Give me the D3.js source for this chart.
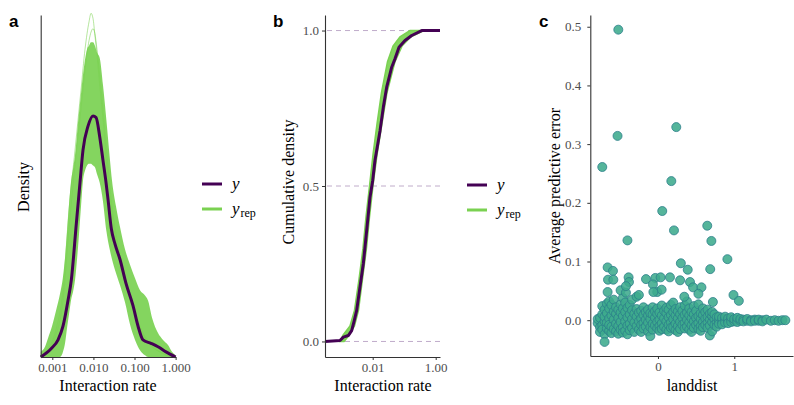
<!DOCTYPE html>
<html>
  <head>
    <meta charset="utf-8" />
    <script src="https://cdn.jsdelivr.net/npm/d3@7"></script>
    <style>
        body { margin: 0; background: #fff; }
        svg { display: block; }
        svg text { font-family: "Liberation Serif", "Times New Roman", Times, "DejaVu Serif", serif; }
        .tick text { font-size: 13px; fill: #4d4d4d; }
        .tick line { stroke: #333; }
        .domain { stroke: #333; stroke-width: 1.1; }
        .title { font-size: 16px; fill: #000; }
        svg text.panel { font-family: "Liberation Sans", Arial, sans-serif; font-size: 17px; font-weight: bold; }
        .leg { font-size: 17px; font-style: italic; }
    </style>
  </head>
  <body>
    <script type="text/javascript">

        // ---- panel a : density overlay (x = interaction rate, log) ----
        var yRateA = [0.000522,0.000946,0.00138,0.00182,0.00241,0.0029,0.00384,0.00472,0.00558,0.00739,0.00978,0.0116,
                      0.0142,0.0171,0.0203,0.0227,0.0273,0.0336,0.0444,0.0621,0.092,0.122,0.161,0.252,0.373,0.583,1.0];
        var yDensA = [0,0.05,0.10,0.18,0.33,0.45,0.78,1.02,1.21,1.35,1.41,1.40,
                      1.29,1.15,1.02,0.92,0.75,0.66,0.57,0.43,0.30,0.18,0.10,0.08,0.06,0.03,0];

        // grid used for the yrep band (upper / lower envelope of the replicates)
        var repRateA = [0.000522,0.000664,0.000786,0.000984,0.00123,0.00154,0.00182,0.00204,0.00228,0.00255,0.0029,0.00319,
                        0.00357,0.00422,0.00499,0.00558,0.00625,0.00699,0.00782,0.00875,0.00978,0.0109,0.0122,0.0142,
                        0.0171,0.0206,0.0249,0.0284,0.0355,0.0444,0.0587,0.0778,0.103,0.136,0.180,0.213,0.267,0.373,
                        0.494,0.653,0.817,1.0];
        var repUpperA = [0.03,0.06,0.11,0.18,0.27,0.37,0.47,0.58,0.73,0.89,1.04,1.10,
                         1.18,1.37,1.54,1.65,1.74,1.80,1.82,1.84,1.84,1.82,1.78,1.75,
                         1.59,1.39,1.17,1.03,0.88,0.76,0.63,0.54,0.46,0.39,0.36,0.33,0.23,0.14,
                         0.10,0.07,0.03,0.01];
        var repLowerA = [0,0,0,0,0,0,0.03,0.08,0.17,0.25,0.34,0.38,
                         0.45,0.64,0.88,1.03,1.09,1.12,1.13,1.13,1.12,1.11,1.07,1.02,
                         0.91,0.74,0.63,0.57,0.49,0.42,0.32,0.19,0.10,0.04,0.01,0,0,0,
                         0,0,0,0];
        // two replicates that stick out above the band
        var spikeRateA = [0.000664,0.00123,0.00182,0.00255,0.00357,0.00499,0.00625,0.00782,0.00875,0.00978,0.0109,
                          0.0122,0.0142,0.0171,0.0206,0.0284,0.0444,0.0778,0.180,0.494,1.0];
        var spike1A = [0.03,0.16,0.39,0.86,1.21,1.56,1.80,1.96,2.01,1.98,1.88,1.77,1.59,1.39,1.15,0.83,0.57,0.33,0.11,0.02,0];
        var spike2A = [0.02,0.13,0.33,0.75,1.12,1.45,1.68,1.85,1.90,1.92,1.89,1.80,1.65,1.45,1.22,0.88,0.60,0.35,0.12,0.02,0];
        var ticksA = [0.001, 0.01, 0.1, 1];
        var tickLabelsA = ["0.001", "0.010", "0.100", "1.000"];

        // ---- panel b : ecdf ----
        var yRateB = [0.000306,0.000916,0.00117,0.00168,0.00215,0.00261,0.0031,0.00395,0.00503,0.00645,0.00821,0.0100,
                      0.0118,0.0171,0.0217,0.0278,0.0401,0.051,0.0684,0.106,0.173,0.36,1.37];
        var yCdfB = [0,0.003,0.014,0.019,0.035,0.068,0.10,0.175,0.25,0.357,0.464,0.518,
                     0.582,0.678,0.753,0.818,0.882,0.909,0.946,0.968,0.984,1.0,1.0];
        var cdfLevels = [0,0.02,0.05,0.1,0.2,0.3,0.4,0.5,0.6,0.7,0.8,0.9,0.95,0.98,1.0];
        var repLeftB  = [0.000916,0.00114,0.0019,0.00264,0.00367,0.00492,0.00612,0.00791,0.0102,0.0137,0.019,0.0295,0.0441,0.0736,0.153];
        var repRightB = [0.00123,0.00177,0.00264,0.00354,0.00474,0.00635,0.00791,0.0102,0.0137,0.0197,0.0284,0.0511,0.0851,0.164,0.426];
        var ticksB = [0.01, 1];
        var tickLabelsB = ["0.01", "1.00"];
        var yTicksB = [0, 0.5, 1];

        // ---- panel c : average predictive error vs landdist ----
        var outliersC = [[-0.52,0.495],[-0.53,0.314],[-0.73,0.261],[0.24,0.329],[0.175,0.237],[0.056,0.186],[0.21,0.153],
                         [0.646,0.161],[0.70,0.135],[-0.40,0.136],[0.91,0.104],[0.685,0.087],[0.30,0.097],[0.39,0.086],
                         [-0.66,0.090],[-0.59,0.084],[-0.655,0.069],[-0.585,0.069],[-0.385,0.073],[-0.38,0.065],
                         [-0.157,0.070],[-0.035,0.072],[0.035,0.073],[0.157,0.073],[0.29,0.068],[0.42,0.065],
                         [0.46,0.056],[0.57,0.056],[0.53,0.045],[0.99,0.043],[1.06,0.033],[0.72,0.031],[-0.66,0.048],
                         [-0.49,0.051],[-0.42,0.047],[-0.25,0.043],[-0.066,0.061],[-0.01,0.048],[0.048,0.052],
                         [-0.06,0.048],[0.345,0.040],[-0.42,0.058],[-0.70,-0.037]];
        var cloudC = [
            [-0.79,-0.005],[-0.79,0.002],[-0.76,-0.012],[-0.76,0.004],[-0.76,-0.020],[-0.73,0.010],[-0.73,-0.008],[-0.73,0.024],[-0.73,-0.016],
            [-0.70,-0.002],[-0.70,0.018],[-0.70,-0.024],[-0.70,0.006],[-0.67,0.012],[-0.67,-0.014],[-0.67,0.028],[-0.67,-0.004],
            [-0.64,0.003],[-0.64,-0.018],[-0.64,0.020],[-0.64,-0.008],[-0.64,0.032],[-0.61,-0.011],[-0.61,0.008],[-0.61,0.026],[-0.61,-0.022],
            [-0.58,0.001],[-0.58,-0.015],[-0.58,0.015],[-0.58,0.035],[-0.55,-0.006],[-0.55,0.011],[-0.55,-0.019],[-0.55,0.022],
            [-0.52,0.004],[-0.52,-0.010],[-0.52,0.018],[-0.52,-0.023],[-0.49,-0.003],[-0.49,0.013],[-0.49,-0.016],[-0.49,0.027],
            [-0.46,0.007],[-0.46,-0.012],[-0.46,0.020],[-0.46,-0.021],[-0.46,0.038],[-0.43,-0.002],[-0.43,0.014],[-0.43,-0.018],[-0.43,0.030],
            [-0.40,0.005],[-0.40,-0.009],[-0.40,0.021],[-0.40,-0.024],[-0.37,-0.006],[-0.37,0.010],[-0.37,-0.017],[-0.37,0.026],
            [-0.34,0.002],[-0.34,-0.013],[-0.34,0.017],[-0.34,0.035],[-0.31,-0.004],[-0.31,0.011],[-0.31,-0.020],
            [-0.28,0.006],[-0.28,-0.010],[-0.28,0.019],[-0.28,0.040],[-0.25,-0.002],[-0.25,0.013],[-0.25,-0.016],
            [-0.22,0.003],[-0.22,-0.008],[-0.22,0.016],[-0.22,-0.020],[-0.19,-0.005],[-0.19,0.009],[-0.19,-0.014],[-0.19,0.022],
            [-0.16,0.001],[-0.16,-0.011],[-0.16,0.014],[-0.13,-0.004],[-0.13,0.008],[-0.13,-0.019],[-0.13,0.018],
            [-0.10,0.002],[-0.10,-0.012],[-0.10,0.012],[-0.10,-0.027],[-0.07,-0.006],[-0.07,0.010],[-0.07,-0.016],[-0.07,0.022],
            [-0.04,0.004],[-0.04,-0.009],[-0.04,0.015],[-0.01,-0.003],[-0.01,0.011],[-0.01,-0.014],[-0.01,0.020],
            [0.02,0.001],[0.02,-0.010],[0.02,0.013],[0.02,-0.018],[0.05,-0.005],[0.05,0.008],[0.05,-0.015],[0.05,0.025],
            [0.08,0.003],[0.08,-0.011],[0.08,0.016],[0.11,-0.002],[0.11,0.012],[0.11,-0.016],[0.11,0.021],
            [0.14,0.005],[0.14,-0.008],[0.14,0.018],[0.14,-0.019],[0.17,-0.004],[0.17,0.009],[0.17,-0.013],[0.17,0.026],
            [0.20,0.002],[0.20,-0.012],[0.20,0.014],[0.20,0.030],[0.23,-0.006],[0.23,0.008],[0.23,-0.017],[0.23,0.019],
            [0.26,0.003],[0.26,-0.010],[0.26,0.015],[0.26,-0.020],[0.29,-0.003],[0.29,0.010],[0.29,-0.015],[0.29,0.022],
            [0.32,0.004],[0.32,-0.008],[0.32,0.016],[0.35,-0.005],[0.35,0.009],[0.35,-0.014],[0.35,0.025],
            [0.38,0.001],[0.38,-0.011],[0.38,0.013],[0.38,0.032],[0.41,-0.004],[0.41,0.008],[0.41,-0.016],[0.41,0.020],
            [0.44,0.003],[0.44,-0.009],[0.44,0.014],[0.44,-0.020],[0.47,-0.002],[0.47,0.010],[0.47,-0.013],[0.47,0.024],
            [0.50,0.004],[0.50,-0.008],[0.50,0.016],[0.53,-0.005],[0.53,0.007],[0.53,-0.015],[0.53,0.027],
            [0.56,0.002],[0.56,-0.010],[0.56,0.012],[0.56,-0.018],[0.59,-0.003],[0.59,0.009],[0.59,-0.012],[0.59,0.020],
            [0.62,0.003],[0.62,-0.008],[0.62,0.014],[0.65,-0.004],[0.65,0.006],[0.65,-0.013],[0.65,0.018],
            [0.68,0.001],[0.68,-0.009],[0.68,0.011],[0.68,-0.026],[0.71,-0.003],[0.71,0.007],[0.71,-0.019],[0.71,0.014],
            [0.74,0.002],[0.74,-0.008],[0.74,0.010],[0.77,-0.004],[0.77,0.005],[0.77,-0.011],
            [0.80,0.001],[0.80,-0.006],[0.80,0.006],[0.84,-0.002],[0.84,0.004],[0.84,-0.007],[0.88,0.002],[0.88,-0.004],[0.88,0.006],
            [0.92,-0.001],[0.92,0.003],[0.92,-0.005],[0.96,0.001],[0.96,-0.003],[0.96,0.005],[1.00,-0.002],[1.00,0.002],
            [1.04,0.001],[1.04,-0.003],[1.04,0.004],[1.08,-0.001],[1.08,0.002],[1.12,0.001],[1.12,-0.002],[1.17,-0.001],[1.17,0.002],
            [1.22,0.000],[1.22,-0.002],[1.27,0.001],[1.27,-0.001],[1.32,-0.001],[1.32,0.001],[1.37,0.000],[1.37,-0.002],
            [1.42,0.001],[1.48,-0.001],[1.53,0.000],[1.58,-0.001],[1.63,0.000],[1.67,0.000]
        ];
        var ticksCx = [0, 1];
        var ticksCy = [0, 0.1, 0.2, 0.3, 0.4, 0.5];

        var dark = "#440154", light = "#7ad151";

        var svg = d3.select("body").append("svg")
            .attr("width", 794)
            .attr("height", 405);

        function legend(x, y) {
            var g = svg.append("g").attr("transform", "translate(" + x + "," + y + ")");
            g.append("line").attr("x1", 0).attr("x2", 20).attr("y1", 0).attr("y2", 0)
                .attr("stroke", dark).attr("stroke-width", 3);
            g.append("line").attr("x1", 0).attr("x2", 20).attr("y1", 25).attr("y2", 25)
                .attr("stroke", light).attr("stroke-width", 3);
            g.append("text").attr("class", "leg").attr("x", 30).attr("y", 5).text("y");
            var t = g.append("text").attr("class", "leg").attr("x", 30).attr("y", 30);
            t.append("tspan").text("y");
            t.append("tspan").attr("dy", 3).attr("dx", 1).style("font-style", "normal").style("font-size", "12px").text("rep");
        }

        // axis helper: d3 puts font-family="sans-serif" on the axis group, drop it so css wins
        function axisStyle(g) {
            g.attr("font-family", null).attr("font-size", null);
        }

        // ===================== panel a =====================
        var xA = d3.scaleLog().domain([0.000522, 1.005]).range([40.7, 175.7]);
        var yA = d3.scaleLinear().domain([0, 2.0]).range([357, 15]);

        var gA = svg.append("g");

        var bandA = d3.area()
            .x(function(d) { return xA(d[0]); })
            .y0(function(d) { return yA(d[2]); })
            .y1(function(d) { return yA(d[1]); })
            .curve(d3.curveMonotoneX);
        gA.append("path")
            .datum(repRateA.map(function(r, i) { return [r, repUpperA[i], repLowerA[i]]; }))
            .attr("d", bandA)
            .attr("fill", light)
            .attr("fill-opacity", 0.92);

        var lineA = d3.line()
            .x(function(d) { return xA(d[0]); })
            .y(function(d) { return yA(d[1]); })
            .curve(d3.curveMonotoneX);

        [spike1A, spike2A].forEach(function(s) {
            gA.append("path")
                .datum(spikeRateA.map(function(r, i) { return [r, s[i]]; }))
                .attr("d", lineA)
                .attr("fill", "none")
                .attr("stroke", light)
                .attr("stroke-opacity", 0.55)
                .attr("stroke-width", 1);
        });

        gA.append("path")
            .datum(yRateA.map(function(r, i) { return [r, yDensA[i]]; }))
            .attr("d", lineA)
            .attr("fill", "none")
            .attr("stroke", dark)
            .attr("stroke-width", 3);

        gA.append("g")
            .attr("transform", "translate(0,357)")
            .call(d3.axisBottom(xA).tickValues(ticksA).tickSize(3).tickPadding(3).tickSizeOuter(0)
                .tickFormat(function(d, i) { return tickLabelsA[i]; }))
            .call(axisStyle);
        gA.append("g")
            .attr("transform", "translate(40.7,0)")
            .call(d3.axisLeft(yA).tickValues([]).tickSizeOuter(0));

        gA.append("text").attr("class", "title").attr("text-anchor", "middle")
            .attr("x", 108).attr("y", 391).text("Interaction rate");
        gA.append("text").attr("class", "title").attr("text-anchor", "middle")
            .attr("transform", "translate(29,187) rotate(-90)").text("Density");
        gA.append("text").attr("class", "panel").attr("x", 9).attr("y", 27).text("a");
        legend(202, 184);

        // ===================== panel b =====================
        var xB = d3.scaleLog().domain([0.000306, 1.37]).range([325, 440]);
        var yB = d3.scaleLinear().domain([-0.05, 1.05]).range([357, 15]);

        var gB = svg.append("g");

        gB.selectAll("line.grid")
            .data(yTicksB)
            .enter()
            .append("line")
            .attr("class", "grid")
            .attr("x1", 327).attr("x2", 440)
            .attr("y1", function(d) { return yB(d); })
            .attr("y2", function(d) { return yB(d); })
            .attr("stroke", "#b9a3c4")
            .attr("stroke-width", 0.9)
            .attr("stroke-dasharray", "5,4");

        var bandB = d3.area()
            .y(function(d) { return yB(d[0]); })
            .x0(function(d) { return xB(d[1]); })
            .x1(function(d) { return xB(d[2]); });
        gB.append("path")
            .datum(cdfLevels.map(function(c, i) { return [c, repLeftB[i], repRightB[i]]; }))
            .attr("d", bandB)
            .attr("fill", light)
            .attr("stroke", light)
            .attr("stroke-width", 1.5)
            .attr("fill-opacity", 0.92);

        gB.append("path")
            .datum(yRateB.map(function(r, i) { return [r, yCdfB[i]]; }))
            .attr("d", d3.line()
                .x(function(d) { return xB(d[0]); })
                .y(function(d) { return yB(d[1]); }))
            .attr("fill", "none")
            .attr("stroke", dark)
            .attr("stroke-width", 3)
            .attr("stroke-linejoin", "round");

        gB.append("g")
            .attr("transform", "translate(0,357)")
            .call(d3.axisBottom(xB).tickValues(ticksB).tickSize(3).tickPadding(3).tickSizeOuter(0)
                .tickFormat(function(d, i) { return tickLabelsB[i]; }))
            .call(axisStyle);
        gB.append("g")
            .attr("transform", "translate(325,0)")
            .call(d3.axisLeft(yB).tickValues(yTicksB).tickSize(3).tickPadding(3).tickSizeOuter(0)
                .tickFormat(d3.format(".1f")))
            .call(axisStyle);

        gB.append("text").attr("class", "title").attr("text-anchor", "middle")
            .attr("x", 383).attr("y", 391).text("Interaction rate");
        gB.append("text").attr("class", "title").attr("text-anchor", "middle")
            .attr("transform", "translate(294,182) rotate(-90)").text("Cumulative density");
        gB.append("text").attr("class", "panel").attr("x", 273).attr("y", 27).text("b");
        legend(467, 185);

        // ===================== panel c =====================
        var xC = d3.scaleLinear().domain([-0.887, 1.77]).range([590.3, 793]);
        var yC = d3.scaleLinear().domain([-0.061, 0.520]).range([356, 15]);

        var gC = svg.append("g");

        gC.selectAll("circle")
            .data(cloudC.concat(outliersC))
            .enter()
            .append("circle")
            .attr("cx", function(d) { return xC(d[0]); })
            .attr("cy", function(d) { return yC(d[1]); })
            .attr("r", 4.5)
            .attr("fill", "#3eab8d")
            .attr("fill-opacity", 0.88)
            .attr("stroke", "#2c7f8a")
            .attr("stroke-width", 0.8);

        gC.append("g")
            .attr("transform", "translate(0,356)")
            .call(d3.axisBottom(xC).tickValues(ticksCx).tickSize(3).tickPadding(3).tickSizeOuter(0)
                .tickFormat(d3.format("d")))
            .call(axisStyle);
        gC.append("g")
            .attr("transform", "translate(590.3,0)")
            .call(d3.axisLeft(yC).tickValues(ticksCy).tickSize(3).tickPadding(6).tickSizeOuter(0)
                .tickFormat(d3.format(".1f")))
            .call(axisStyle);

        gC.append("text").attr("class", "title").attr("text-anchor", "middle")
            .attr("x", 692).attr("y", 391).text("landdist");
        gC.append("text").attr("class", "title").attr("text-anchor", "middle")
            .attr("transform", "translate(560,186) rotate(-90)").text("Average predictive error");
        gC.append("text").attr("class", "panel").attr("x", 539).attr("y", 27).text("c");

    </script>
  </body>
</html>
